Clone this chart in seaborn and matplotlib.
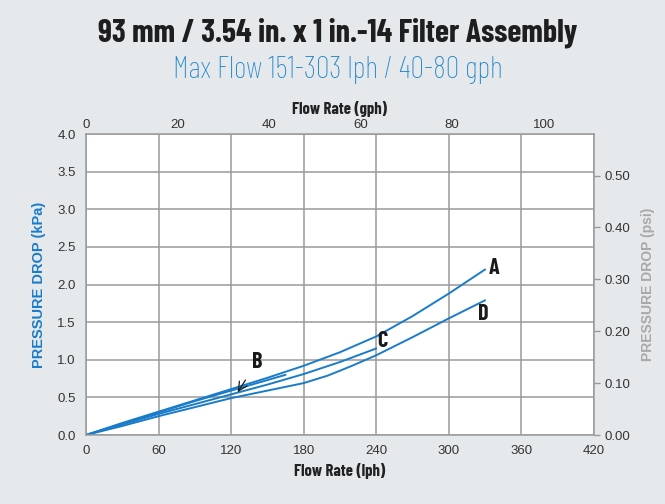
import pandas as pd
import seaborn as sns
import matplotlib.pyplot as plt
import numpy as np

sns.set_style('white')
plt.rcParams['font.family'] = ['Liberation Sans', 'DejaVu Sans']
COND = ['Barlow Condensed', 'Liberation Sans', 'DejaVu Sans']

# flow (lph) vs pressure drop (kPa)
a_flow = [0, 30, 60, 90, 120, 150, 180, 210, 240, 270, 300, 330]
a_kpa = [0, 0.16, 0.31, 0.46, 0.61, 0.76, 0.92, 1.10, 1.31, 1.58, 1.88, 2.20]
b_flow = [0, 30, 60, 90, 120, 150, 165]
b_kpa = [0, 0.15, 0.30, 0.45, 0.59, 0.73, 0.80]
c_flow = [0, 30, 60, 90, 120, 150, 180, 210, 240]
c_kpa = [0, 0.14, 0.28, 0.41, 0.54, 0.67, 0.81, 0.97, 1.15]
d_flow = [0, 30, 60, 90, 120, 150, 180, 200, 220, 240, 270, 300, 330]
d_kpa = [0, 0.12, 0.25, 0.37, 0.49, 0.59, 0.69, 0.79, 0.92, 1.06, 1.30, 1.55, 1.79]

lph_ticks = [0, 60, 120, 180, 240, 300, 360, 420]
gph_ticks = [0, 20, 40, 60, 80, 100]
kpa_ticks = [0.0, 0.5, 1.0, 1.5, 2.0, 2.5, 3.0, 3.5, 4.0]
psi_ticks = [0.0, 0.1, 0.2, 0.3, 0.4, 0.5]

LPH_PER_GPH = 3.785
KPA_PER_PSI = 6.895

frames = []
for name, fx, fy in [('A', a_flow, a_kpa), ('B', b_flow, b_kpa),
                     ('C', c_flow, c_kpa), ('D', d_flow, d_kpa)]:
    frames.append(pd.DataFrame({'flow': fx, 'kpa': fy, 'curve': name}))
df = pd.concat(frames, ignore_index=True)

bg = '#e6e9ec'
blue = '#1a7cc9'
grid = '#9a9a9a'
txt = '#333333'

fig = plt.figure(figsize=(6.65, 5.04), dpi=100, facecolor=bg)
ax = fig.add_axes([0.1293, 0.1369, 0.7639, 0.5972])
ax.set_facecolor('white')

sns.lineplot(data=df, x='flow', y='kpa', hue='curve', units='curve', estimator=None,
             palette=[blue] * 4, legend=False, linewidth=1.4, ax=ax)

ax.set_xlim(0, 420)
ax.set_ylim(0, 4.0)
ax.set_xticks(lph_ticks)
ax.set_yticks(kpa_ticks)
ax.set_yticklabels([f'{v:.1f}' for v in kpa_ticks])
ax.grid(True, color=grid, linewidth=1.1)
for s in ax.spines.values():
    s.set_color(grid)
    s.set_linewidth(1.1)
ax.tick_params(axis='both', colors=grid, labelcolor=txt, labelsize=9.5, length=4, width=1)
ax.set_xlabel('Flow Rate (lph)', fontsize=12, fontweight='bold', color='#222222',
              family=COND, labelpad=4)
ax.set_ylabel('PRESSURE DROP (kPa)', fontsize=10.5, fontweight='bold', color=blue, labelpad=8)

# top axis in gph
top = ax.secondary_xaxis('top', functions=(lambda x: x / LPH_PER_GPH, lambda g: g * LPH_PER_GPH))
top.set_xticks(gph_ticks)
top.tick_params(colors=grid, labelcolor=txt, labelsize=9.5, length=0, pad=2)
top.set_xlabel('Flow Rate (gph)', fontsize=12, fontweight='bold', color='#222222',
               family=COND, labelpad=4)
top.spines['top'].set_visible(False)

# right axis in psi
right = ax.secondary_yaxis('right', functions=(lambda k: k / KPA_PER_PSI, lambda p: p * KPA_PER_PSI))
right.set_yticks(psi_ticks)
right.set_yticklabels([f'{v:.2f}' for v in psi_ticks])
right.tick_params(colors=grid, labelcolor=txt, labelsize=9.5, length=4, width=1)
right.set_ylabel('PRESSURE DROP (psi)', fontsize=10, fontweight='bold', color='#a8a8a8', labelpad=8)
right.spines['right'].set_visible(False)

# curve labels
lab = dict(fontsize=16, fontweight='bold', color='#1a1a1a', va='center', family=COND)
ax.text(333, 2.22, 'A', ha='left', **lab)
ax.text(324, 1.61, 'D', ha='left', **lab)
ax.text(241, 1.25, 'C', ha='left', **lab)
ax.annotate('B', xy=(125.4, 0.568), xytext=(137, 0.97), ha='left', va='center',
            fontsize=16, fontweight='bold', color='#1a1a1a', family=COND,
            arrowprops=dict(arrowstyle='->', color='#1a1a1a', lw=0.9, shrinkA=4, shrinkB=0))

fig.text(0.508, 0.935, '93 mm / 3.54 in. x 1 in.-14 Filter Assembly', ha='center', va='center',
         fontsize=23, fontweight='bold', color='#1e1e1e', family=COND)
fig.text(0.508, 0.862, 'Max Flow 151-303 lph / 40-80 gph', ha='center', va='center',
         fontsize=22, fontweight='light', color='#1e84cc', family=COND)

fig.savefig('out.png', dpi=100, facecolor=bg)
